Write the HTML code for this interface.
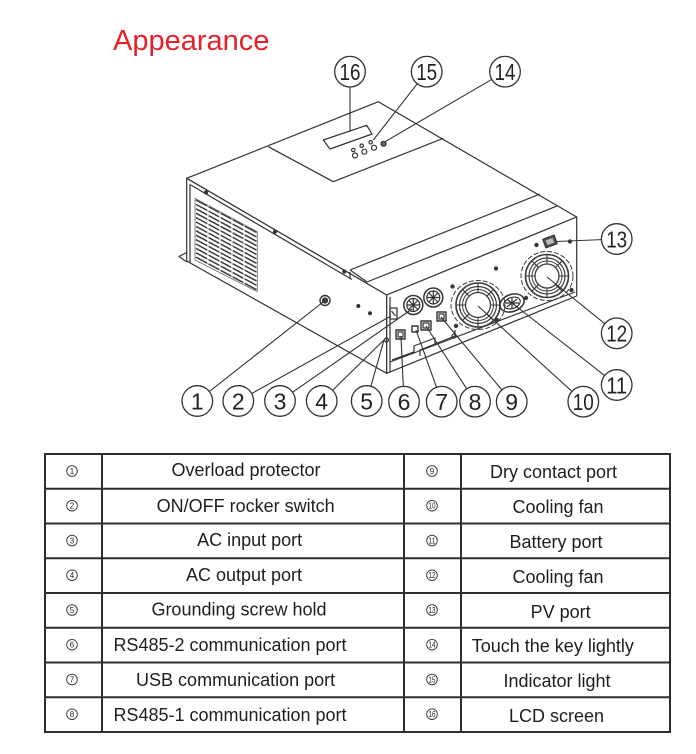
<!DOCTYPE html>
<html>
<head>
<meta charset="utf-8">
<style>
html,body{margin:0;padding:0;background:#fff;}
body{width:696px;height:754px;overflow:hidden;}
svg{display:block;}
text{font-family:"Liberation Sans",Arial,sans-serif;}
</style>
</head>
<body>
<svg width="696" height="754" viewBox="0 0 696 754" xmlns="http://www.w3.org/2000/svg">
<rect width="696" height="754" fill="#fff"/>

<!-- Title -->
<text x="113" y="50" font-size="29" fill="#e5222b">Appearance</text>

<!-- ===== Device drawing ===== -->
<g stroke="#333" stroke-width="1.2" fill="none" stroke-linejoin="round">
  <!-- faces -->
  <polygon points="378.3,101.7 576.7,217 386.7,295 186.7,178.3" fill="#fff"/>
  <polygon points="186.7,178.3 386.7,295 386.7,373.3 186.7,261" fill="#fff"/>
  <polygon points="386.7,295 576.7,217 576.7,296 386.7,373.3" fill="#fff"/>

  <!-- top panel -->
  <polyline points="268.3,146.7 333.3,181.7 443.3,138.3"/>
  <!-- LCD -->
  <polygon points="323.3,140 366.7,125.3 372,134 330,149"/>
  <!-- buttons -->
  <circle cx="353.3" cy="150" r="1.7"/>
  <circle cx="361.7" cy="145.7" r="1.7"/>
  <circle cx="370.7" cy="142.3" r="1.7"/>
  <circle cx="355" cy="155.5" r="2.5"/>
  <circle cx="364.3" cy="151.7" r="2.5"/>
  <circle cx="374" cy="147.7" r="2.5"/>
  <circle cx="383.5" cy="143.8" r="2.5" fill="#666"/>

  <!-- seam lines on top front -->
  <line x1="350" y1="270" x2="540" y2="194"/>
  <line x1="367" y1="282" x2="557.7" y2="205.7"/>
  <line x1="350" y1="270" x2="367" y2="282"/>

  <!-- lid lip on left -->
  <line x1="190" y1="184.5" x2="352" y2="279.5"/>
  <line x1="350" y1="272" x2="350" y2="279"/>
  <line x1="190" y1="184.5" x2="190" y2="262.5"/>
  <circle cx="206" cy="192.5" r="1.5" fill="#333"/>
  <circle cx="275" cy="231.7" r="1.5" fill="#333"/>
  <circle cx="344.3" cy="271.5" r="1.5" fill="#333"/>
  <!-- flange -->
  <path d="M186.7,252.5 L179,256.5 L186.7,262"/>

  <!-- vent grille -->
  <g stroke="#3c3c3c" stroke-width="1.5">
    <path d="M196,200 l60.5,32.5 M196,204.4 l60.5,32.5 M196,208.8 l60.5,32.5 M196,213.2 l60.5,32.5 M196,217.6 l60.5,32.5 M196,222 l60.5,32.5 M196,226.4 l60.5,32.5 M196,230.8 l60.5,32.5 M196,235.2 l60.5,32.5 M196,239.6 l60.5,32.5 M196,244 l60.5,32.5 M196,248.4 l60.5,32.5 M196,252.8 l60.5,32.5 M196,257.2 l60.5,32.5"/>
  </g>
  <g stroke="#fff" stroke-width="1.3" stroke-dasharray="2.2,2.2">
    <line x1="208" y1="205" x2="208" y2="267"/>
    <line x1="220" y1="211.5" x2="220" y2="273.5"/>
    <line x1="232" y1="218" x2="232" y2="280"/>
    <line x1="244" y1="224.5" x2="244" y2="286.5"/>
  </g>
  <polygon points="195,198.3 257.3,231.7 257.3,291.7 195,260" stroke="#666" stroke-width="0.8"/>

  <!-- left face details -->
  <circle cx="325" cy="300.5" r="5" fill="#fff" stroke-width="1.4"/>
  <circle cx="325" cy="300.5" r="2.5" fill="#444"/>
  <circle cx="358.3" cy="306" r="1.4" fill="#333"/>
  <circle cx="370" cy="313.3" r="1.4" fill="#333"/>

  <!-- port face details -->
  <line x1="390" y1="297" x2="390" y2="372"/>
  <line x1="390" y1="362" x2="575" y2="292"/>
  <rect x="390" y="308" width="7" height="11" stroke-width="1.3"/>
  <line x1="391.5" y1="311" x2="395.5" y2="316"/>
  <!-- glands -->
  <circle cx="413.3" cy="305" r="9.5" stroke-width="1.5"/>
  <circle cx="413.3" cy="305" r="6.5"/>
  <path d="M407,305 h12.6 M413.3,298.7 v12.6 M408.8,300.5 l9,9 M417.8,300.5 l-9,9"/>
  <circle cx="433.3" cy="297.5" r="9.5" stroke-width="1.5"/>
  <circle cx="433.3" cy="297.5" r="6.5"/>
  <path d="M427,297.5 h12.6 M433.3,291.2 v12.6 M428.8,293 l9,9 M437.8,293 l-9,9"/>
  <!-- RJ45 / USB -->
  <rect x="396" y="330" width="9" height="9" stroke-width="1.4"/>
  <rect x="398" y="332" width="5" height="5"/>
  <rect x="412" y="326" width="6" height="6" stroke-width="1.4"/>
  <rect x="421" y="321" width="10" height="9" stroke-width="1.4"/>
  <rect x="423" y="323" width="6" height="5"/>
  <rect x="437" y="312" width="9" height="9" stroke-width="1.4"/>
  <rect x="439" y="314" width="5" height="5"/>
  <circle cx="386.5" cy="340" r="2"/>
  <circle cx="454" cy="336" r="2"/>
  <!-- lower slots -->
  <path d="M392,360 L414,352 L414,346 L435,338 L435,344 L455,336 L455,330"/>
  <path d="M420,356 L420,350 L440,342"/>

  <!-- Fan 10 -->
  <g stroke="#3c3c3c">
    <ellipse cx="478" cy="305" rx="27" ry="24.5" stroke-width="1" stroke-dasharray="5,2"/>
    <circle cx="478" cy="305" r="22" stroke-width="1.6"/>
    <circle cx="478" cy="305" r="18.5" stroke-width="1.2"/>
    <circle cx="478" cy="305" r="15.5" stroke-width="1"/>
    <circle cx="478" cy="305" r="12.5" fill="#fff" stroke-width="1.3"/>
    <path d="M478,292.5 v-9.5 M478,317.5 v9.5 M465.5,305 h-9.5 M490.5,305 h9.5 M469.2,296.2 l-6.7,-6.7 M486.8,313.8 l6.7,6.7 M486.8,296.2 l6.7,-6.7 M469.2,313.8 l-6.7,6.7" stroke-width="1.1"/>
    <circle cx="452.5" cy="286.5" r="1.6" fill="#333"/>
    <circle cx="496" cy="268.5" r="1.6" fill="#333"/>
    <circle cx="497" cy="320" r="1.6" fill="#333"/>
    <circle cx="456" cy="326" r="1.6" fill="#333"/>
  </g>
  <!-- Fan 12 -->
  <g stroke="#3c3c3c">
    <ellipse cx="547" cy="276" rx="26" ry="24.5" stroke-width="1" stroke-dasharray="5,2"/>
    <circle cx="547" cy="276" r="21.5" stroke-width="1.6"/>
    <circle cx="547" cy="276" r="18" stroke-width="1.2"/>
    <circle cx="547" cy="276" r="15" stroke-width="1"/>
    <circle cx="547" cy="276" r="12" fill="#fff" stroke-width="1.3"/>
    <path d="M547,264 v-9.5 M547,288 v9.5 M535,276 h-9.5 M559,276 h9.5 M538.5,267.5 l-6.7,-6.7 M555.5,284.5 l6.7,6.7 M555.5,267.5 l6.7,-6.7 M538.5,284.5 l-6.7,6.7" stroke-width="1.1"/>
    <circle cx="536.5" cy="245" r="1.6" fill="#333"/>
    <circle cx="570" cy="241.5" r="1.6" fill="#333"/>
    <circle cx="571.5" cy="290" r="1.6" fill="#333"/>
    <circle cx="526" cy="298" r="1.6" fill="#333"/>
  </g>
  <!-- Battery port -->
  <ellipse cx="512" cy="303" rx="12.5" ry="8.5" transform="rotate(-20 512 303)" stroke-width="1.5"/>
  <ellipse cx="512" cy="303" rx="8.5" ry="5.5" transform="rotate(-20 512 303)"/>
  <path d="M505,303 h14 M512,297.5 v11 M507,299 l10,8 M517,299 l-10,8"/>
  <!-- PV port -->
  <rect x="544" y="237" width="12" height="9" fill="#555" stroke-width="1.3" transform="rotate(-20 550 241.5)"/>
  <rect x="546.5" y="239" width="7" height="5" fill="#bbb" stroke="none" transform="rotate(-20 550 241.5)"/>
</g>

<!-- Leader lines -->
<g stroke="#333" stroke-width="1.1" fill="none">
  <line x1="350" y1="71.7" x2="350" y2="131.7"/>
  <line x1="426.7" y1="71.7" x2="373.3" y2="140"/>
  <line x1="505" y1="71.7" x2="385" y2="141.7"/>
  <line x1="197.3" y1="401" x2="325" y2="300.5"/>
  <line x1="238.3" y1="401" x2="391" y2="316"/>
  <line x1="280" y1="401" x2="412" y2="309"/>
  <line x1="321.7" y1="401" x2="387" y2="337"/>
  <line x1="366.7" y1="401" x2="384" y2="340"/>
  <line x1="404" y1="401.7" x2="401" y2="336"/>
  <line x1="441.7" y1="401.7" x2="416" y2="330"/>
  <line x1="475" y1="401.7" x2="426" y2="326"/>
  <line x1="511.7" y1="401.7" x2="441" y2="317"/>
  <line x1="583.3" y1="401.7" x2="478" y2="306"/>
  <line x1="616.7" y1="385" x2="512" y2="303"/>
  <line x1="616.7" y1="333.3" x2="547" y2="277"/>
  <line x1="616.7" y1="239" x2="556" y2="241.5"/>
</g>

<!-- Number circles -->
<g stroke="#333" stroke-width="1.3" fill="#fff">
  <circle cx="350" cy="71.7" r="15.3"/>
  <circle cx="426.7" cy="71.7" r="15.3"/>
  <circle cx="505" cy="71.7" r="15.3"/>
  <circle cx="197.3" cy="401" r="15.3"/>
  <circle cx="238.3" cy="401" r="15.3"/>
  <circle cx="280" cy="401" r="15.3"/>
  <circle cx="321.7" cy="401" r="15.3"/>
  <circle cx="366.7" cy="401" r="15.3"/>
  <circle cx="404" cy="401.7" r="15.3"/>
  <circle cx="441.7" cy="401.7" r="15.3"/>
  <circle cx="475" cy="401.7" r="15.3"/>
  <circle cx="511.7" cy="401.7" r="15.3"/>
  <circle cx="583.3" cy="401.7" r="15.3"/>
  <circle cx="616.7" cy="385" r="15.3"/>
  <circle cx="616.7" cy="333.3" r="15.3"/>
  <circle cx="616.7" cy="239" r="15.3"/>
</g>
<g font-size="23" fill="#222" text-anchor="middle">
  <text x="350" y="80" textLength="21" lengthAdjust="spacingAndGlyphs">16</text>
  <text x="426.7" y="80" textLength="21" lengthAdjust="spacingAndGlyphs">15</text>
  <text x="505" y="80" textLength="21" lengthAdjust="spacingAndGlyphs">14</text>
  <text x="197.3" y="409.3">1</text>
  <text x="238.3" y="409.3">2</text>
  <text x="280" y="409.3">3</text>
  <text x="321.7" y="409.3">4</text>
  <text x="366.7" y="409.3">5</text>
  <text x="404" y="410">6</text>
  <text x="441.7" y="410">7</text>
  <text x="475" y="410">8</text>
  <text x="511.7" y="410">9</text>
  <text x="583.3" y="410" textLength="21" lengthAdjust="spacingAndGlyphs">10</text>
  <text x="616.7" y="393.3" textLength="21" lengthAdjust="spacingAndGlyphs">11</text>
  <text x="616.7" y="341.6" textLength="21" lengthAdjust="spacingAndGlyphs">12</text>
  <text x="616.7" y="247.3" textLength="21" lengthAdjust="spacingAndGlyphs">13</text>
</g>

<!-- ===== Table ===== -->
<g stroke="#2e2e2e" stroke-width="2" fill="none">
  <rect x="45" y="454" width="625" height="278"/>
  <line x1="102" y1="454" x2="102" y2="732"/>
  <line x1="404" y1="454" x2="404" y2="732"/>
  <line x1="461" y1="454" x2="461" y2="732"/>
  <line x1="45" y1="488.8" x2="670" y2="488.8"/>
  <line x1="45" y1="523.5" x2="670" y2="523.5"/>
  <line x1="45" y1="558.3" x2="670" y2="558.3"/>
  <line x1="45" y1="593" x2="670" y2="593"/>
  <line x1="45" y1="627.8" x2="670" y2="627.8"/>
  <line x1="45" y1="662.5" x2="670" y2="662.5"/>
  <line x1="45" y1="697.3" x2="670" y2="697.3"/>
</g>

<!-- table circled numbers -->
<g stroke="#333" stroke-width="0.9" fill="none">
  <circle cx="72" cy="471" r="5.3"/>
  <circle cx="72" cy="505.7" r="5.3"/>
  <circle cx="72" cy="540.5" r="5.3"/>
  <circle cx="72" cy="575.2" r="5.3"/>
  <circle cx="72" cy="610" r="5.3"/>
  <circle cx="72" cy="644.7" r="5.3"/>
  <circle cx="72" cy="679.5" r="5.3"/>
  <circle cx="72" cy="714.2" r="5.3"/>
  <circle cx="432" cy="471" r="5.3"/>
  <circle cx="432" cy="505.7" r="5.3"/>
  <circle cx="432" cy="540.5" r="5.3"/>
  <circle cx="432" cy="575.2" r="5.3"/>
  <circle cx="432" cy="610" r="5.3"/>
  <circle cx="432" cy="644.7" r="5.3"/>
  <circle cx="432" cy="679.5" r="5.3"/>
  <circle cx="432" cy="714.2" r="5.3"/>
</g>
<g font-size="8" fill="#222" text-anchor="middle">
  <text x="72" y="473.9">1</text>
  <text x="72" y="508.6">2</text>
  <text x="72" y="543.4">3</text>
  <text x="72" y="578.1">4</text>
  <text x="72" y="612.9">5</text>
  <text x="72" y="647.6">6</text>
  <text x="72" y="682.4">7</text>
  <text x="72" y="717.1">8</text>
  <text x="432" y="473.9">9</text>
  <text x="432" y="508.6" textLength="7" lengthAdjust="spacingAndGlyphs">10</text>
  <text x="432" y="543.4" textLength="7" lengthAdjust="spacingAndGlyphs">11</text>
  <text x="432" y="578.1" textLength="7" lengthAdjust="spacingAndGlyphs">12</text>
  <text x="432" y="612.9" textLength="7" lengthAdjust="spacingAndGlyphs">13</text>
  <text x="432" y="647.6" textLength="7" lengthAdjust="spacingAndGlyphs">14</text>
  <text x="432" y="682.4" textLength="7" lengthAdjust="spacingAndGlyphs">15</text>
  <text x="432" y="717.1" textLength="7" lengthAdjust="spacingAndGlyphs">16</text>
</g>

<!-- table text -->
<g font-size="18" fill="#1e1e1e" text-anchor="middle">
  <text x="246" y="476.2">Overload protector</text>
  <text x="245.6" y="512.2">ON/OFF rocker switch</text>
  <text x="249.6" y="546.2">AC input port</text>
  <text x="244" y="581.2">AC output port</text>
  <text x="239" y="615.6">Grounding screw hold</text>
  <text x="230" y="651.2">RS485-2 communication port</text>
  <text x="235.6" y="686.2">USB communication port</text>
  <text x="230" y="721.2">RS485-1 communication port</text>

  <text x="553.5" y="477.9">Dry contact port</text>
  <text x="558" y="512.9">Cooling fan</text>
  <text x="556" y="547.9">Battery port</text>
  <text x="558" y="582.9">Cooling fan</text>
  <text x="560.6" y="617.9">PV port</text>
  <text x="552.8" y="652.2">Touch the key lightly</text>
  <text x="557" y="687.2">Indicator light</text>
  <text x="556.5" y="722.2">LCD screen</text>
</g>
</svg>
</body>
</html>
